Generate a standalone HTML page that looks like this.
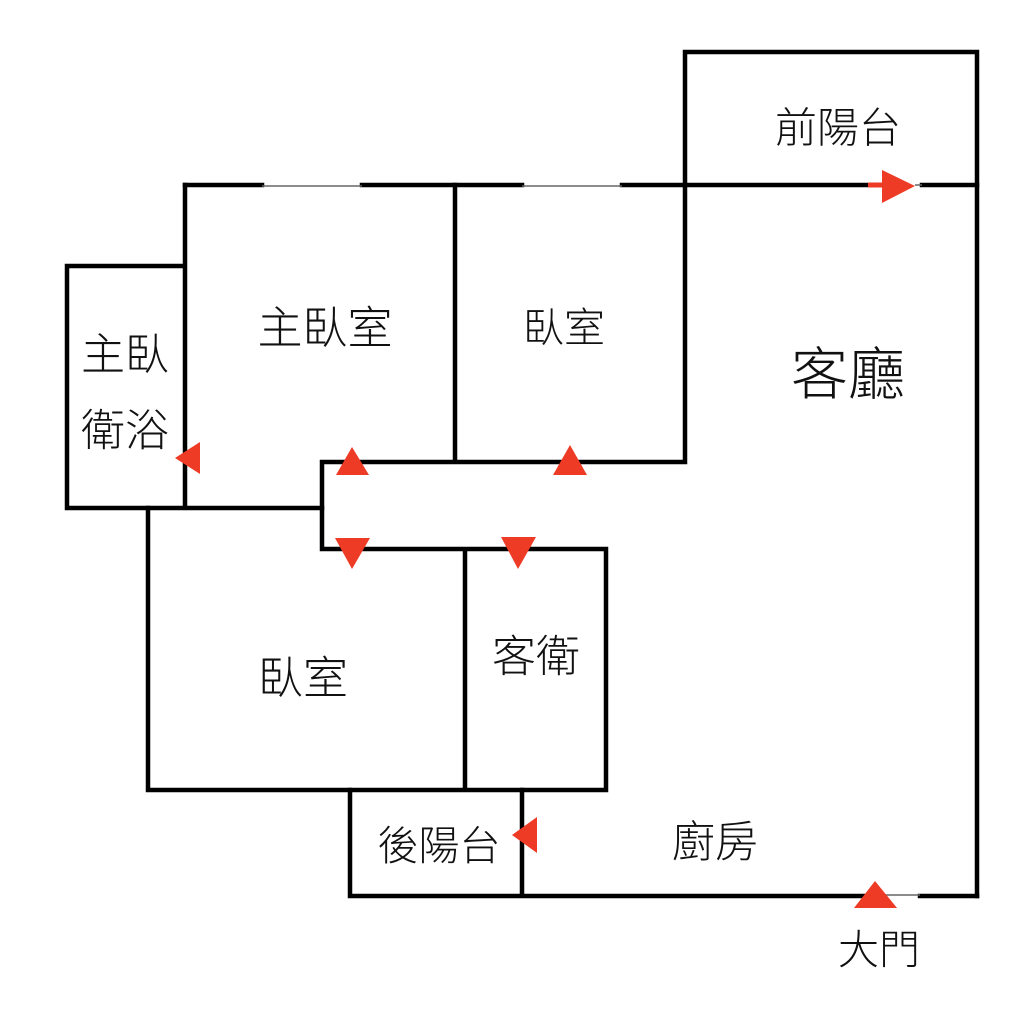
<!DOCTYPE html>
<html><head><meta charset="utf-8"><style>
html,body{margin:0;padding:0;background:#fff;}
svg{display:block}
text{font-family:"Liberation Sans","Noto Sans CJK TC",sans-serif;font-weight:300;fill:#111;text-anchor:middle;dominant-baseline:central}
</style></head><body>
<svg width="1024" height="1024" viewBox="0 0 1024 1024" xmlns="http://www.w3.org/2000/svg">
<g stroke="#000" stroke-width="4.5" fill="none" stroke-linecap="square">
<path d="M185 185 H262 M362 185 H522 M622 185 H885 M922 185 H977"/>
<path d="M685 185 V52 H977 V896"/>
<path d="M977 896 H920 M870 896 H350 V790 M522 790 V896"/>
<path d="M185 185 V508 M67 266 H185 M67 266 V508 H322"/>
<path d="M455 185 V462 M685 185 V462 H322 V549 H606 V790 H148 V508 M465 549 V790"/>
</g>
<g stroke="#666" stroke-width="1.5">
<path d="M262 186 H362 M522 186 H622 M870 895 H920 M915 185 H922"/>
</g>
<g fill="#ee3b26">
<path d="M868 185 H884" stroke="#ee3b26" stroke-width="5"/>
<polygon points="882,170 915,186 882,203"/>
<polygon points="200,442 200,474 175,458"/>
<polygon points="336,475 369,475 352,447"/>
<polygon points="553,475 587,475 570,445"/>
<polygon points="335,538 370,538 352,569"/>
<polygon points="501,537 536,537 518,569"/>
<polygon points="537,817 537,853 512,835"/>
<polygon points="854,908 897,908 875,881"/>
</g>
<text x="838" y="128" font-size="42">前陽台</text>
<text x="325" y="328" font-size="45">主臥室</text>
<text x="564" y="328" font-size="41">臥室</text>
<text x="848" y="375" font-size="57">客廳</text>
<text x="125" y="355" font-size="44">主臥</text>
<text x="125" y="431" font-size="44">衛浴</text>
<text x="303" y="678" font-size="45">臥室</text>
<text x="536" y="657" font-size="44">客衛</text>
<text x="439" y="846" font-size="41">後陽台</text>
<text x="715" y="843" font-size="43">廚房</text>
<text x="879" y="950" font-size="41">大門</text>
</svg>
</body></html>
